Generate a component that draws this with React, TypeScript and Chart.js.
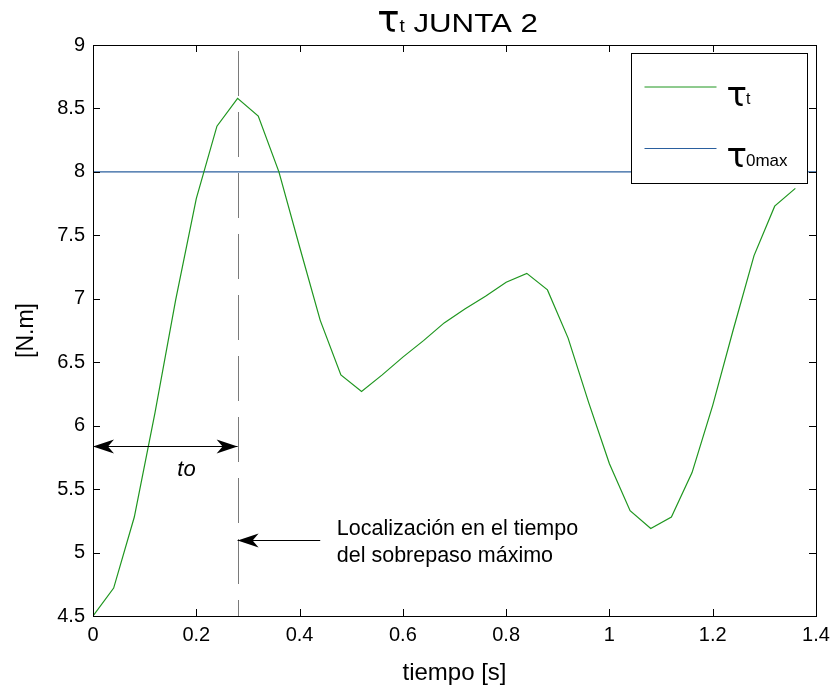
import React, { useEffect, useRef } from "react";
import { Chart, registerables } from "chart.js";

Chart.register(...registerables);

// ---- data ----
const TIME = [
  0, 0.04, 0.08, 0.12, 0.16, 0.2, 0.24, 0.28, 0.32, 0.36, 0.4, 0.44, 0.48, 0.52,
  0.56, 0.6, 0.64, 0.68, 0.72, 0.76, 0.8, 0.84, 0.88, 0.92, 0.96, 1.0, 1.04,
  1.08, 1.12, 1.16, 1.2, 1.24, 1.28, 1.32, 1.36,
];
const TAU_T = [
  4.5, 4.72, 5.28, 6.1, 6.99, 7.79, 8.36, 8.58, 8.44, 8.0, 7.41, 6.83, 6.4, 6.27,
  6.4, 6.54, 6.67, 6.81, 6.92, 7.02, 7.13, 7.2, 7.07, 6.69, 6.18, 5.7, 5.33,
  5.19, 5.28, 5.63, 6.16, 6.76, 7.34, 7.73, 7.87,
];
const TAU_0MAX_TIME = [0, 1.4];
const TAU_0MAX = [8, 8];

const X_TICKS = [0, 0.2, 0.4, 0.6, 0.8, 1, 1.2, 1.4];
const Y_TICKS = [4.5, 5, 5.5, 6, 6.5, 7, 7.5, 8, 8.5, 9];

const T_PEAK = 0.28; // time of maximum overshoot
const TO_ARROW_Y = 5.84;
const TO_LABEL = "to";
const TO_LABEL_POS = [0.181, 5.648];
const NOTE_ARROW_Y = 5.1;
const NOTE_ARROW_END = 0.44;
const NOTE_TEXT = ["Localización en el tiempo", "del sobrepaso máximo"];
const NOTE_TEXT_X = 0.472;
const NOTE_TEXT_Y = [5.136, 4.925];

const TITLE_MAIN = " JUNTA 2";
const X_TITLE = "tiempo [s]";
const Y_TITLE = "[N.m]";

const GREEN = "#1f961f";
const BLUE = "#2a5f9e";
const FONT = "'Liberation Sans', Arial, Helvetica, sans-serif";
const TAU_FONT = "'DejaVu Sans', sans-serif";

function arrowHead(ctx: CanvasRenderingContext2D, tipX: number, y: number, dir: number) {
  ctx.beginPath();
  ctx.moveTo(tipX, y);
  ctx.lineTo(tipX - dir * 21, y - 7);
  ctx.lineTo(tipX - dir * 15, y);
  ctx.lineTo(tipX - dir * 21, y + 7);
  ctx.closePath();
  ctx.fill();
}

const overlay = {
  id: "overlay",
  beforeDatasetsDraw(chart: any) {
    const { ctx, chartArea: a, scales } = chart;
    const x = scales.x;
    const px = Math.round(x.getPixelForValue(T_PEAK)) + 0.5;
    ctx.save();
    ctx.strokeStyle = "#7a7a7a";
    ctx.lineWidth = 1;
    ctx.setLineDash([45, 16]);
    ctx.lineDashOffset = 29;
    ctx.beginPath();
    ctx.moveTo(px, a.bottom);
    ctx.lineTo(px, a.top + 3);
    ctx.stroke();
    ctx.restore();
  },
  afterDatasetsDraw(chart: any) {
    const { ctx, chartArea: a, scales } = chart;
    const x = scales.x;
    const y = scales.y;
    ctx.save();
    // frame
    ctx.strokeStyle = "#000";
    ctx.lineWidth = 1;
    ctx.strokeRect(a.left + 0.5, a.top + 0.5, a.right - a.left, a.bottom - a.top);
    // inward ticks
    ctx.beginPath();
    X_TICKS.forEach((v) => {
      const px = Math.round(x.getPixelForValue(v)) + 0.5;
      ctx.moveTo(px, a.bottom);
      ctx.lineTo(px, a.bottom - 7);
      ctx.moveTo(px, a.top);
      ctx.lineTo(px, a.top + 7);
    });
    Y_TICKS.forEach((v) => {
      const py = Math.round(y.getPixelForValue(v)) + 0.5;
      ctx.moveTo(a.left, py);
      ctx.lineTo(a.left + 7, py);
      ctx.moveTo(a.right, py);
      ctx.lineTo(a.right - 7, py);
    });
    ctx.stroke();

    // "to" double arrow
    ctx.fillStyle = "#000";
    const ay = Math.round(y.getPixelForValue(TO_ARROW_Y)) + 0.5;
    const ax0 = x.getPixelForValue(0);
    const ax1 = x.getPixelForValue(T_PEAK);
    ctx.beginPath();
    ctx.moveTo(ax0, ay);
    ctx.lineTo(ax1, ay);
    ctx.stroke();
    arrowHead(ctx, ax0, ay, -1);
    arrowHead(ctx, ax1, ay, 1);
    ctx.font = `italic 22px ${FONT}`;
    ctx.textAlign = "center";
    ctx.textBaseline = "middle";
    ctx.fillText(TO_LABEL, x.getPixelForValue(TO_LABEL_POS[0]), y.getPixelForValue(TO_LABEL_POS[1]));

    // note arrow
    const ny = Math.round(y.getPixelForValue(NOTE_ARROW_Y)) + 0.5;
    const nx0 = x.getPixelForValue(NOTE_ARROW_END);
    ctx.beginPath();
    ctx.moveTo(nx0, ny);
    ctx.lineTo(ax1, ny);
    ctx.stroke();
    arrowHead(ctx, ax1, ny, -1);
    ctx.font = `21.5px ${FONT}`;
    ctx.textAlign = "left";
    ctx.textBaseline = "alphabetic";
    NOTE_TEXT.forEach((t, i) => {
      ctx.fillText(t, x.getPixelForValue(NOTE_TEXT_X), y.getPixelForValue(NOTE_TEXT_Y[i]));
    });

    // legend
    const bw = 176;
    const bh = 130;
    const bx = Math.round(a.right - 9 - bw) + 0.5;
    const by = Math.round(a.top + 8) + 0.5;
    ctx.fillStyle = "#fff";
    ctx.fillRect(bx, by, bw, bh);
    ctx.strokeStyle = "#000";
    ctx.strokeRect(bx, by, bw, bh);
    const entries = [
      { color: GREEN, sub: "t", ly: 33.5, base: 52 },
      { color: BLUE, sub: "0max", ly: 95, base: 113.5 },
    ];
    entries.forEach((e) => {
      ctx.strokeStyle = e.color;
      ctx.beginPath();
      ctx.moveTo(bx + 13, by + e.ly);
      ctx.lineTo(bx + 85, by + e.ly);
      ctx.stroke();
      ctx.fillStyle = "#000";
      ctx.textAlign = "left";
      ctx.textBaseline = "alphabetic";
      ctx.font = `34px ${TAU_FONT}`;
      ctx.fillText("\u03C4", bx + 95, by + e.base);
      const tw = ctx.measureText("\u03C4").width;
      ctx.font = `${e.sub === "t" ? 16 : 17}px ${FONT}`;
      ctx.fillText(e.sub, bx + 95 + tw - 1, by + e.base - 1.5);
    });

    // title
    const cx = (a.left + a.right) / 2 + 3;
    const base = 31.5;
    ctx.fillStyle = "#000";
    ctx.font = `37px ${TAU_FONT}`;
    const w1 = ctx.measureText("\u03C4").width;
    ctx.font = `19px ${FONT}`;
    const w2 = ctx.measureText("t").width;
    ctx.font = `25px ${FONT}`;
    const sx = 1.25;
    const w3 = ctx.measureText(TITLE_MAIN).width * sx;
    let cur = cx - (w1 + w2 + w3) / 2;
    ctx.font = `37px ${TAU_FONT}`;
    ctx.fillText("\u03C4", cur, base);
    cur += w1;
    ctx.font = `19px ${FONT}`;
    ctx.fillText("t", cur, base);
    cur += w2;
    ctx.font = `25px ${FONT}`;
    ctx.save();
    ctx.translate(cur, base);
    ctx.scale(sx, 1);
    ctx.fillText(TITLE_MAIN, 0, 0);
    ctx.restore();

    ctx.restore();
  },
};

export default function App() {
  const ref = useRef<HTMLCanvasElement | null>(null);
  useEffect(() => {
    if (!ref.current) return;
    const chart = new Chart(ref.current, {
      type: "line",
      data: {
        datasets: [
          {
            label: "\u03C4t",
            data: TIME.map((t, i) => ({ x: t, y: TAU_T[i] })),
            borderColor: GREEN,
            borderWidth: 1.2,
            pointRadius: 0,
            tension: 0,
            fill: false,
          },
          {
            label: "\u03C40max",
            data: TAU_0MAX_TIME.map((t, i) => ({ x: t, y: TAU_0MAX[i] })),
            borderColor: BLUE,
            borderWidth: 1.2,
            pointRadius: 0,
            tension: 0,
            fill: false,
          },
        ],
      },
      options: {
        responsive: false,
        animation: false,
        devicePixelRatio: 1,
        layout: { padding: { top: 45, right: 21, left: 0, bottom: 0 } },
        plugins: {
          legend: { display: false },
          tooltip: { enabled: false },
          title: { display: false },
        },
        scales: {
          x: {
            type: "linear",
            min: 0,
            max: 1.4,
            afterBuildTicks: (s: any) => {
              s.ticks = X_TICKS.map((v) => ({ value: v }));
            },
            afterFit: (s: any) => {
              s.height = 75;
            },
            grid: { display: false, drawTicks: false, tickLength: 0 },
            border: { display: false },
            ticks: {
              color: "#000",
              font: { family: FONT, size: 20 },
              padding: 7,
              maxRotation: 0,
              autoSkip: false,
              callback: (v: any) => String(Math.round(Number(v) * 10) / 10),
            },
            title: {
              display: true,
              text: X_TITLE,
              color: "#000",
              font: { family: FONT, size: 24 },
              padding: { top: 0, bottom: 3 },
            },
          },
          y: {
            type: "linear",
            min: 4.5,
            max: 9,
            afterBuildTicks: (s: any) => {
              s.ticks = Y_TICKS.map((v) => ({ value: v }));
            },
            afterFit: (s: any) => {
              s.width = 93;
            },
            grid: { display: false, drawTicks: false, tickLength: 0 },
            border: { display: false },
            ticks: {
              color: "#000",
              font: { family: FONT, size: 20 },
              padding: 8,
              autoSkip: false,
              callback: (v: any) => String(Math.round(Number(v) * 10) / 10),
            },
            title: {
              display: true,
              text: Y_TITLE,
              color: "#000",
              font: { family: FONT, size: 23 },
              padding: { top: 13, bottom: 0 },
            },
          },
        },
      },
      plugins: [overlay],
    });
    return () => chart.destroy();
  }, []);
  return (
    <div style={{ position: "absolute", left: 0, top: 0, width: 837, height: 691, background: "#fff" }}>
      <canvas ref={ref} width={837} height={691} />
    </div>
  );
}
